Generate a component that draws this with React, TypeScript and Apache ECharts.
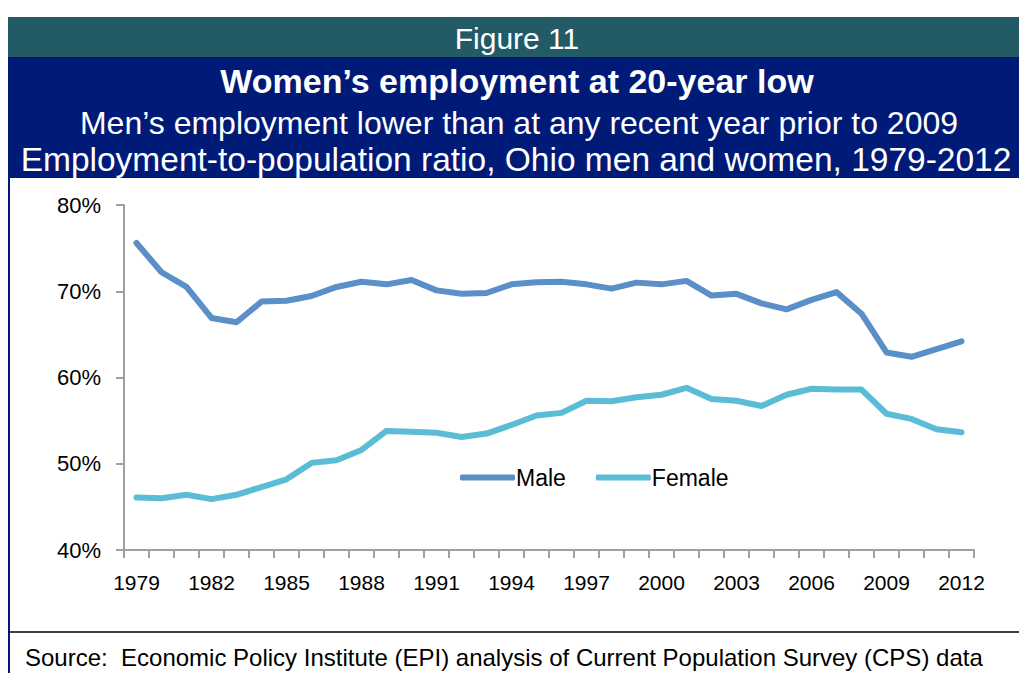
import React, { useEffect, useRef } from "react";
import * as echarts from "echarts";

const years = [
  "1979","1980","1981","1982","1983","1984","1985","1986","1987","1988","1989",
  "1990","1991","1992","1993","1994","1995","1996","1997","1998","1999","2000",
  "2001","2002","2003","2004","2005","2006","2007","2008","2009","2010","2011","2012",
];
const male = [
  75.6, 72.2, 70.5, 66.9, 66.4, 68.8, 68.9, 69.45, 70.5, 71.1, 70.8,
  71.3, 70.1, 69.7, 69.8, 70.8, 71.05, 71.1, 70.8, 70.3, 71.0, 70.8,
  71.2, 69.5, 69.7, 68.6, 67.9, 69.0, 69.9, 67.4, 62.9, 62.4, 63.3, 64.2,
];
const female = [
  46.1, 46.0, 46.4, 45.9, 46.4, 47.3, 48.2, 50.1, 50.4, 51.6, 53.8,
  53.7, 53.6, 53.1, 53.5, 54.5, 55.6, 55.9, 57.3, 57.25, 57.7, 58.0,
  58.8, 57.5, 57.3, 56.7, 58.0, 58.7, 58.6, 58.6, 55.8, 55.2, 54.0, 53.65,
];
const figureLabel = "Figure 11";
const titleText = "Women\u2019s employment at 20-year low";
const subtitle1 = "Men\u2019s employment lower than at any recent year prior to 2009";
const subtitle2 = "Employment-to-population ratio, Ohio men and women, 1979-2012";
const sourceText = "Source:  Economic Policy Institute (EPI) analysis of Current Population Survey (CPS) data";

const FONT = "'Liberation Sans', Arial, sans-serif";

export default function App() {
  const ref = useRef<HTMLDivElement>(null);
  useEffect(() => {
    if (!ref.current) return;
    const chart = echarts.init(ref.current, undefined, { renderer: "svg" });
    chart.setOption({
      animation: false,
      backgroundColor: "#ffffff",
      textStyle: { fontFamily: FONT },
      grid: { left: 124, right: 45, top: 205, bottom: 123, containLabel: false },
      legend: {
        data: ["Male", "Female"],
        left: 455,
        top: 461,
        icon: "roundRect",
        itemWidth: 55,
        itemHeight: 6,
        itemGap: 30,
        textStyle: { fontFamily: FONT, fontSize: 23, color: "#000", padding: [0, 0, 0, -4] },
      },
      xAxis: {
        type: "category",
        data: years,
        boundaryGap: true,
        axisLine: { lineStyle: { color: "#a0a0a0", width: 2 } },
        axisTick: { show: true, interval: 0, length: 8, lineStyle: { color: "#a0a0a0", width: 2 } },
        axisLabel: { interval: 2, fontFamily: FONT, fontSize: 21, color: "#000", margin: 22 },
      },
      yAxis: {
        type: "value",
        min: 40,
        max: 80,
        interval: 10,
        axisLine: { show: true, lineStyle: { color: "#a0a0a0", width: 2 } },
        axisTick: { show: true, length: 8, lineStyle: { color: "#a0a0a0", width: 2 } },
        splitLine: { show: false },
        axisLabel: { formatter: "{value}%", fontFamily: FONT, fontSize: 22, color: "#000", margin: 23 },
      },
      series: [
        {
          name: "Male",
          type: "line",
          data: male,
          symbol: "none",
          lineStyle: { color: "#5b8fc8", width: 6, cap: "round", join: "round" },
          itemStyle: { color: "#5b8fc8" },
        },
        {
          name: "Female",
          type: "line",
          data: female,
          symbol: "none",
          lineStyle: { color: "#5bbcd6", width: 6, cap: "round", join: "round" },
          itemStyle: { color: "#5bbcd6" },
        },
      ],
      graphic: [
        { type: "rect", shape: { x: 8, y: 17, width: 1011, height: 40 }, style: { fill: "#225a66" } },
        { type: "rect", shape: { x: 8, y: 57, width: 1011, height: 121 }, style: { fill: "#001a78" } },
        { type: "line", shape: { x1: 9, y1: 178, x2: 9, y2: 673 }, style: { stroke: "#001a78", lineWidth: 2 } },
        { type: "line", shape: { x1: 8, y1: 632, x2: 1019, y2: 632 }, style: { stroke: "#000", lineWidth: 1.5 } },
        {
          type: "text", x: 517, y: 38,
          style: { text: figureLabel, fill: "#fff", font: `30px ${FONT}`, textAlign: "center", textVerticalAlign: "middle" },
        },
        {
          type: "text", x: 517, y: 81,
          style: { text: titleText, fill: "#fff", font: `bold 34px ${FONT}`, textAlign: "center", textVerticalAlign: "middle" },
        },
        {
          type: "text", x: 519, y: 123,
          style: { text: subtitle1, fill: "#fff", font: `32px ${FONT}`, textAlign: "center", textVerticalAlign: "middle" },
        },
        {
          type: "text", x: 516, y: 159,
          style: { text: subtitle2, fill: "#fff", font: `33.5px ${FONT}`, textAlign: "center", textVerticalAlign: "middle" },
        },
        {
          type: "text", x: 25, y: 657,
          style: { text: sourceText, fill: "#000", font: `24px ${FONT}`, textAlign: "left", textVerticalAlign: "middle" },
        },
      ],
    });
    return () => chart.dispose();
  }, []);
  return (
    <div
      ref={ref}
      style={{ position: "fixed", left: 0, top: 0, width: 1019, height: 673 }}
    />
  );
}
